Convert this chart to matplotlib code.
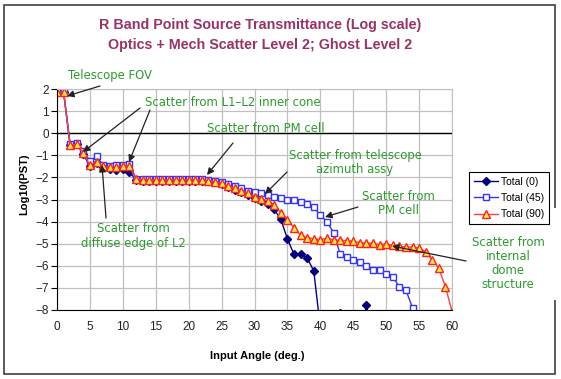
import numpy as np
import matplotlib
matplotlib.use('Agg')
import matplotlib.pyplot as plt
from matplotlib.patches import Rectangle

# input angle (deg.)
angle = np.arange(0, 61)

# Log10(PST), Total (0) - values below -8 are off the axis
total_0 = [1.85, 1.85, -0.55, -0.5, -0.95, -1.5, -1.35, -1.55, -1.62, -1.65,
           -1.6, -1.75, -2.12, -2.15, -2.15, -2.15, -2.15, -2.15, -2.15, -2.15,
           -2.15, -2.15, -2.15, -2.18, -2.22, -2.3, -2.42, -2.55, -2.65, -2.78,
           -2.92, -3.05, -3.2, -3.45, -3.9, -4.78, -5.48, -5.48, -5.65, -6.23,
           -8.8, -9.5, -9.5, -8.12, -9.5, -9.5, -9.5, -7.78, -9.5, -9.5,
           -9.5, -9.5, -9.5, -9.5, -9.5, -9.5, -9.5, -9.5, -9.5, -9.5, -9.5]

# Total (45)
total_45 = [1.9, 1.9, -0.5, -0.45, -0.8, -1.25, -1.05, -1.45, -1.5, -1.45,
            -1.42, -1.4, -2.05, -2.08, -2.08, -2.08, -2.08, -2.08, -2.08, -2.08,
            -2.08, -2.08, -2.08, -2.1, -2.15, -2.2, -2.3, -2.4, -2.5, -2.6,
            -2.68, -2.72, -2.8, -2.87, -2.95, -3.0, -3.03, -3.1, -3.2, -3.35,
            -3.7, -4.0, -4.5, -5.45, -5.6, -5.75, -5.85, -6.0, -6.2, -6.2,
            -6.35, -6.5, -6.95, -7.1, -7.9, np.nan, np.nan, np.nan, np.nan, np.nan, np.nan]

# Total (90)
total_90 = [1.85, 1.85, -0.55, -0.5, -0.9, -1.45, -1.3, -1.5, -1.55, -1.52,
            -1.48, -1.5, -2.08, -2.1, -2.12, -2.12, -2.1, -2.12, -2.1, -2.12,
            -2.1, -2.12, -2.12, -2.15, -2.2, -2.27, -2.38, -2.5, -2.6, -2.72,
            -2.87, -2.98, -3.05, -3.25, -3.6, -3.92, -4.28, -4.62, -4.72, -4.78,
            -4.82, -4.75, -4.82, -4.85, -4.86, -4.88, -4.95, -4.97, -4.98, -5.05,
            -5.0, -5.08, -5.12, -5.15, -5.15, -5.2, -5.36, -5.74, -6.1, -6.95, -8.05]

W, H = 561, 379
def fp(x, y):
    # figure pixel (from top-left) -> figure fraction
    return (x / W, 1 - y / H)

green = '#2E9B2E'
plum = '#993366'

fig = plt.figure(figsize=(5.61, 3.79), dpi=100)
fig.patch.set_facecolor('white')

# chart border
fig.add_artist(Rectangle(fp(3.5, 374), (555 - 3.5) / W, (374 - 5) / H,
                         transform=fig.transFigure, fill=False,
                         edgecolor='#404040', linewidth=1.2, zorder=0))

ax = fig.add_axes([57 / W, 1 - 310 / H, (452 - 57) / W, (310 - 89) / H])
ax.set_xlim(0, 60)
ax.set_ylim(-8, 2)
ax.set_xticks(np.arange(0, 61, 5))
ax.set_yticks(np.arange(-8, 3, 1))
ax.grid(True, color='#C0C0C0', linewidth=0.9)
ax.set_axisbelow(True)
ax.axhline(0, color='black', linewidth=1.0, zorder=1.5)
for s in ['top', 'right']:
    ax.spines[s].set_color('#C0C0C0')
for s in ['left', 'bottom']:
    ax.spines[s].set_color('black')
ax.tick_params(axis='x', length=0, pad=8, labelsize=8.5, labelcolor='#222222')
ax.tick_params(axis='y', length=4, direction='out', pad=2, labelsize=8.5, labelcolor='#222222')
for lab in ax.get_xticklabels() + ax.get_yticklabels():
    lab.set_family('Liberation Sans')

ax.plot(angle, total_0, color='#000080', linewidth=1.0, marker='D',
        markersize=4, markerfacecolor='#000080', markeredgecolor='#000080',
        label='Total (0)')
ax.plot(angle, total_45, color='#3333FF', linewidth=1.0, marker='s',
        markersize=4.5, markerfacecolor='white', markeredgecolor='#3333FF',
        markeredgewidth=1.0, label='Total (45)')
ax.plot(angle, total_90, color='#FF4040', linewidth=1.0, marker='^',
        markersize=5.5, markerfacecolor='#FFE840', markeredgecolor='#FF2020',
        markeredgewidth=1.0, label='Total (90)')

leg = fig.legend(loc='upper left', bbox_to_anchor=fp(469, 172), borderaxespad=0,
                 fancybox=False, edgecolor='black', framealpha=1,
                 prop={'family': 'Liberation Sans', 'size': 7.5},
                 handlelength=2.3, handletextpad=0.3, labelspacing=0.6,
                 borderpad=0.45)
leg.get_frame().set_linewidth(0.8)

# titles
fig.text(*fp(260, 25), 'R Band Point Source Transmittance (Log scale)',
         ha='center', va='center', color=plum, fontsize=10.3, fontweight='bold',
         family='Liberation Sans')
fig.text(*fp(260, 45), 'Optics + Mech Scatter Level 2; Ghost Level 2',
         ha='center', va='center', color=plum, fontsize=10.3, fontweight='bold',
         family='Liberation Sans')
fig.text(*fp(24, 184), 'Log10(PST)', rotation=90, ha='center', va='center',
         fontsize=8, fontweight='bold', family='Liberation Sans')
fig.text(*fp(257, 356), 'Input Angle (deg.)', ha='center', va='center',
         fontsize=8, fontweight='bold', family='Liberation Sans')

# white patch behind the dome note (covers the border like the textbox does)
fig.add_artist(Rectangle(fp(470, 300), 92 / W, 92 / H, transform=fig.transFigure,
                         facecolor='white', edgecolor='none', zorder=1))

notes = [
    ((110, 75), 'Telescope FOV'),
    ((233, 103), 'Scatter from L1\u2013L2 inner cone'),
    ((266, 128), 'Scatter from PM cell'),
    ((355, 162), 'Scatter from telescope\nazimuth assy'),
    ((398, 203), 'Scatter from\nPM cell'),
    ((508, 264), 'Scatter from\ninternal\ndome\nstructure'),
    ((133, 236), 'Scatter from\ndiffuse edge of L2'),
]
for (x, y), t in notes:
    fig.text(*fp(x, y), t, ha='center', va='center', color=green, fontsize=8.4,
             family='DejaVu Sans', linespacing=1.1, zorder=5)

arrows = [
    ((100, 86), (67, 96)),
    ((140, 108), (83, 152)),
    ((150, 110), (129, 162)),
    ((233, 143), (207, 175)),
    ((287, 172), (265, 194)),
    ((358, 207), (325, 217)),
    ((466, 261), (392, 246)),
    ((106, 218), (102, 165)),
]
for tail, head in arrows:
    ax.annotate('', xy=fp(*head), xytext=fp(*tail), xycoords='figure fraction',
                textcoords='figure fraction', annotation_clip=False,
                arrowprops=dict(arrowstyle='-|>', color='#222222', lw=0.9,
                                mutation_scale=10, shrinkA=0, shrinkB=0),
                zorder=6)

fig.savefig('out.png', dpi=100)
